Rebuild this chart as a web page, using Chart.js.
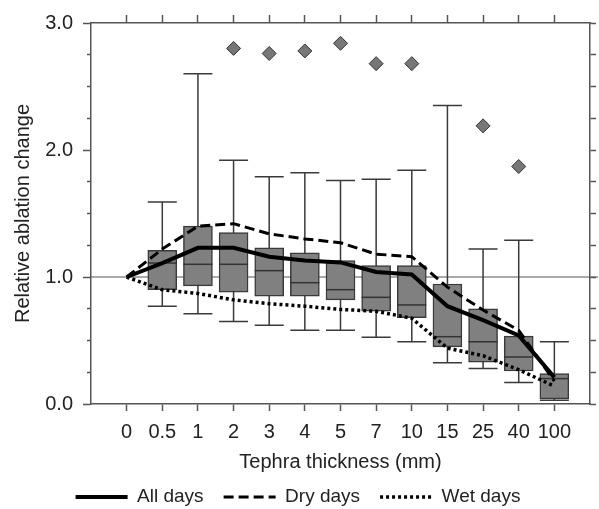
<!DOCTYPE html>
<html>
<head>
<meta charset="utf-8">
<script src="https://cdn.jsdelivr.net/npm/chart.js@4.4.1/dist/chart.umd.min.js"></script>
<style>
html, body { margin: 0; padding: 0; background: #fff; }
</style>
</head>
<body>
<canvas id="grafica" width="599" height="509"></canvas>
<script>
// categorias (espesor de tefra, mm)
var categorias = ['0', '0.5', '1', '2', '3', '4', '5', '7', '10', '15', '25', '40', '100'];

// cajas
var bigoteBajo = [null, 0.77, 0.71, 0.65, 0.62, 0.58, 0.58, 0.525, 0.49, 0.325, 0.28, 0.17, 0.03];
var cuartil1 = [null, 0.90, 0.93, 0.88, 0.85, 0.85, 0.82, 0.73, 0.68, 0.45, 0.33, 0.26, 0.04];
var mediana = [null, 1.11, 1.10, 1.10, 1.05, 0.955, 0.90, 0.84, 0.78, 0.53, 0.49, 0.37, 0.20];
var cuartil3 = [null, 1.21, 1.40, 1.35, 1.23, 1.19, 1.13, 1.09, 1.09, 0.945, 0.75, 0.535, 0.24];
var bigoteAlto = [null, 1.59, 2.60, 1.92, 1.79, 1.82, 1.76, 1.77, 1.84, 2.35, 1.22, 1.29, 0.49];
var atipicos = [null, null, null, 2.80, 2.76, 2.78, 2.84, 2.68, 2.68, null, 2.19, 1.87, null];

// lineas
var todosDias = [1.0, 1.11, 1.23, 1.23, 1.16, 1.13, 1.115, 1.04, 1.02, 0.77, 0.66, 0.54, 0.21];
var diasSecos = [1.0, 1.22, 1.40, 1.42, 1.34, 1.30, 1.27, 1.18, 1.16, 0.92, 0.74, 0.58, 0.18];
var diasHumedos = [1.0, 0.90, 0.87, 0.82, 0.79, 0.77, 0.745, 0.73, 0.675, 0.44, 0.38, 0.27, 0.14];

var ticksY = ['0.0', '1.0', '2.0', '3.0'];

var anchoCaja = 29;
var fuente = "'Liberation Sans', Arial, sans-serif";
var gris = '#555';

function puntos(valores) {
    var salida = [];
    for (var i = 0; i < valores.length; i++) {
        if (valores[i] !== null) salida.push({ x: i, y: valores[i] });
    }
    return salida;
}

function cajas() {
    var salida = [];
    for (var i = 0; i < categorias.length; i++) {
        if (cuartil1[i] !== null) salida.push({ x: i, y: [cuartil1[i], cuartil3[i]] });
    }
    return salida;
}

function ticksCategorias(eje) {
    eje.ticks = categorias.map(function (c, i) { return { value: i }; });
}

var esMenor = function (ctx) { return ctx.tick && Math.abs(ctx.tick.value % 1) > 0.001; };

var cajasPlugin = {
    id: 'cajas',
    beforeDatasetsDraw: function (chart) {
        var ctx = chart.ctx, x = chart.scales.x, y = chart.scales.y, area = chart.chartArea;
        ctx.save();
        // linea de referencia en 1.0
        var y1 = y.getPixelForValue(1);
        ctx.strokeStyle = gris;
        ctx.lineWidth = 1.2;
        ctx.beginPath();
        ctx.moveTo(area.left, y1);
        ctx.lineTo(area.right + 8, y1);
        ctx.stroke();
        // bigotes
        ctx.strokeStyle = '#3a3a3a';
        ctx.lineWidth = 1.5;
        for (var i = 0; i < categorias.length; i++) {
            if (bigoteAlto[i] === null) continue;
            var px = x.getPixelForValue(i);
            var hw = anchoCaja / 2;
            var yb = y.getPixelForValue(bigoteBajo[i]);
            var ya = y.getPixelForValue(bigoteAlto[i]);
            ctx.beginPath();
            ctx.moveTo(px, yb); ctx.lineTo(px, ya);
            ctx.moveTo(px - hw, yb); ctx.lineTo(px + hw, yb);
            ctx.moveTo(px - hw, ya); ctx.lineTo(px + hw, ya);
            ctx.stroke();
        }
        ctx.restore();
    },
    afterDatasetDraw: function (chart, args) {
        if (args.index !== 0) return;
        var ctx = chart.ctx, x = chart.scales.x, y = chart.scales.y;
        ctx.save();
        ctx.strokeStyle = '#333';
        ctx.lineWidth = 1.5;
        for (var i = 0; i < categorias.length; i++) {
            if (mediana[i] === null) continue;
            var px = x.getPixelForValue(i);
            var pm = y.getPixelForValue(mediana[i]);
            ctx.beginPath();
            ctx.moveTo(px - anchoCaja / 2, pm);
            ctx.lineTo(px + anchoCaja / 2, pm);
            ctx.stroke();
        }
        ctx.restore();
    }
};

var ejeGris = { display: true, color: gris, width: 1.5 };

var chart = new Chart(document.getElementById('grafica'), {
    type: 'bar',
    data: {
        datasets: [
            {
                type: 'bar',
                label: 'cajas',
                data: cajas(),
                backgroundColor: '#808080',
                borderColor: '#3a3a3a',
                borderWidth: 1.5,
                borderSkipped: false,
                barThickness: anchoCaja,
                order: 3
            },
            {
                type: 'line',
                label: 'All days',
                data: puntos(todosDias),
                borderColor: '#000',
                borderWidth: 4,
                pointRadius: 0,
                tension: 0,
                order: 1
            },
            {
                type: 'line',
                label: 'Dry days',
                data: puntos(diasSecos),
                borderColor: '#000',
                borderWidth: 3,
                borderDash: [10, 5],
                pointRadius: 0,
                tension: 0,
                order: 1
            },
            {
                type: 'line',
                label: 'Wet days',
                data: puntos(diasHumedos),
                borderColor: '#000',
                borderWidth: 3.5,
                borderDash: [3, 3],
                pointRadius: 0,
                tension: 0,
                order: 1
            },
            {
                type: 'scatter',
                label: 'atipicos',
                data: puntos(atipicos),
                pointStyle: 'rectRot',
                pointRadius: 7,
                backgroundColor: '#777',
                borderColor: '#333',
                borderWidth: 1,
                order: 0
            }
        ]
    },
    options: {
        responsive: false,
        animation: false,
        layout: { padding: { top: 15, right: 3, left: 0, bottom: -7.5 } },
        plugins: {
            tooltip: { enabled: false },
            legend: {
                position: 'bottom',
                labels: {
                    color: '#222',
                    font: { family: fuente, size: 19 },
                    usePointStyle: true,
                    pointStyle: 'line',
                    pointStyleWidth: 52,
                    padding: 20,
                    filter: function (item) { return item.text === 'All days' || item.text === 'Dry days' || item.text === 'Wet days'; },
                    generateLabels: function (chart) {
                        var items = Chart.defaults.plugins.legend.labels.generateLabels(chart);
                        items.forEach(function (item) {
                            var ds = chart.data.datasets[item.datasetIndex];
                            item.lineDash = ds.borderDash || [];
                            item.lineWidth = ds.borderWidth;
                            item.strokeStyle = ds.borderColor;
                            item.pointStyle = 'line';
                        });
                        return items;
                    }
                }
            }
        },
        scales: {
            x: {
                type: 'linear',
                position: 'bottom',
                offset: false,
                min: -1,
                max: 13,
                afterBuildTicks: ticksCategorias,
                afterFit: function (s) { s.height = 63.5; },
                ticks: {
                    color: '#222',
                    font: { family: fuente, size: 20 },
                    padding: 9,
                    maxRotation: 0,
                    autoSkip: false,
                    callback: function (v) { return categorias[v]; }
                },
                grid: { drawOnChartArea: false, offset: false, tickLength: 7, tickColor: gris, tickWidth: 1.5 },
                border: ejeGris,
                title: {
                    display: true,
                    text: 'Tephra thickness (mm)',
                    color: '#222',
                    font: { family: fuente, size: 20 },
                    padding: { top: 0, bottom: -6.6 }
                }
            },
            x2: {
                type: 'linear',
                axis: 'x',
                position: 'top',
                offset: false,
                min: -1,
                max: 13,
                afterBuildTicks: ticksCategorias,
                ticks: { display: false },
                grid: { drawOnChartArea: false, offset: false, tickLength: 8, tickColor: gris, tickWidth: 1.5 },
                border: ejeGris
            },
            y: {
                type: 'linear',
                position: 'left',
                min: 0,
                max: 3,
                afterFit: function (s) { s.width = 91; },
                ticks: {
                    stepSize: 0.25,
                    color: '#222',
                    font: { family: fuente, size: 20 },
                    padding: 10,
                    callback: function (v) { return Math.abs(v % 1) < 0.001 ? ticksY[Math.round(v)] : ''; }
                },
                grid: {
                    drawOnChartArea: false,
                    tickLength: 8,
                    tickColor: gris,
                    tickWidth: 1.5,
                    tickBorderDash: function (ctx) { return esMenor(ctx) ? [4, 4] : []; },
                    tickBorderDashOffset: function (ctx) { return esMenor(ctx) ? 4 : 0; }
                },
                border: ejeGris,
                title: {
                    display: true,
                    text: 'Relative ablation change',
                    color: '#222',
                    font: { family: fuente, size: 20 },
                    padding: { top: 11, bottom: 0 }
                }
            },
            y2: {
                type: 'linear',
                position: 'right',
                min: 0,
                max: 3,
                ticks: { display: false, stepSize: 0.25 },
                grid: { drawOnChartArea: false, tickLength: 6, tickColor: gris, tickWidth: 1.5 },
                border: ejeGris
            }
        }
    },
    plugins: [cajasPlugin]
});
</script>
</body>
</html>
